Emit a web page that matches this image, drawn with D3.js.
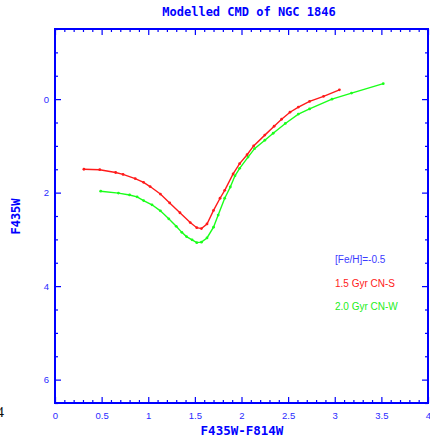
<!DOCTYPE html>
<html>
<head>
<meta charset="utf-8">
<script src="https://cdn.jsdelivr.net/npm/d3@7"></script>
<style>
  html, body { margin: 0; padding: 0; background: #fff; }
  svg { display: block; }
</style>
</head>
<body>
<svg id="chart" width="430" height="437"></svg>
<script>
// Isochrone tracks: colour F435W-F814W vs magnitude F435W
const redColor = [0.31, 0.48, 0.65, 0.73, 0.86, 0.95, 1.02, 1.13, 1.23, 1.34, 1.45, 1.52, 1.57, 1.63, 1.70, 1.77, 1.82, 1.91, 1.98, 2.06, 2.13, 2.25, 2.35, 2.43, 2.52, 2.61, 2.73, 2.88, 3.05];
const redMag   = [1.50, 1.51, 1.57, 1.61, 1.70, 1.78, 1.87, 2.03, 2.22, 2.43, 2.64, 2.75, 2.77, 2.67, 2.38, 2.12, 1.95, 1.60, 1.38, 1.19, 1.00, 0.77, 0.58, 0.43, 0.28, 0.17, 0.05, -0.06, -0.20];

const greenColor = [0.49, 0.68, 0.80, 0.88, 0.95, 1.04, 1.13, 1.22, 1.30, 1.36, 1.41, 1.47, 1.52, 1.57, 1.63, 1.70, 1.75, 1.82, 1.88, 1.93, 1.98, 2.07, 2.14, 2.25, 2.34, 2.47, 2.61, 2.73, 2.97, 3.18, 3.52];
const greenMag   = [1.97, 2.01, 2.05, 2.09, 2.17, 2.26, 2.39, 2.56, 2.72, 2.85, 2.94, 3.01, 3.07, 3.06, 2.97, 2.74, 2.48, 2.12, 1.88, 1.64, 1.48, 1.24, 1.06, 0.88, 0.73, 0.52, 0.32, 0.21, 0.00, -0.13, -0.33];

const xMajorTicks = [0, 0.5, 1, 1.5, 2, 2.5, 3, 3.5, 4];
const xTickLabels = ["0", "0.5", "1", "1.5", "2", "2.5", "3", "3.5", "4"];
const yMajorTicks = [0, 2, 4, 6];
const yTickLabels = ["0", "2", "4", "6"];

const legendLines = ["[Fe/H]=-0.5", "1.5 Gyr CN-S", "2.0 Gyr CN-W"];

const svg = d3.select("#chart");
const blue = "#0000ff";
const labelBlue = "#2a2aff";

const x = d3.scaleLinear().domain([0, 4]).range([55, 428]);
const y = d3.scaleLinear().domain([-1.5, 6.5]).range([29, 403]);

const xMinor = d3.range(0, 4.0001, 0.1).filter(v => Math.abs(v * 2 - Math.round(v * 2)) > 1e-6);
const yMinor = d3.range(-1.5, 6.5001, 0.5).filter(v => Math.abs(v / 2 - Math.round(v / 2)) > 1e-6);

function styleAxis(g) {
  g.select(".domain").remove();
  g.selectAll(".tick line").attr("stroke", blue).attr("stroke-width", 1.2);
}

// bottom axis with labels, ticks pointing inward
svg.append("g").attr("transform", `translate(0,${y.range()[1]})`)
  .call(d3.axisBottom(x).tickValues(xMajorTicks).tickSize(-6).tickPadding(9)
    .tickFormat((d, i) => xTickLabels[i]))
  .call(styleAxis)
  .call(g => g.selectAll("text").attr("fill", labelBlue)
    .style("font-family", "Arial, 'Liberation Sans', sans-serif").style("font-size", "9.5px"));
svg.append("g").attr("transform", `translate(0,${y.range()[1]})`)
  .call(d3.axisBottom(x).tickValues(xMinor).tickSize(-3).tickFormat(""))
  .call(styleAxis);

// top axis (mirror ticks)
svg.append("g").attr("transform", `translate(0,${y.range()[0]})`)
  .call(d3.axisTop(x).tickValues(xMajorTicks).tickSize(-6).tickFormat(""))
  .call(styleAxis);
svg.append("g").attr("transform", `translate(0,${y.range()[0]})`)
  .call(d3.axisTop(x).tickValues(xMinor).tickSize(-3).tickFormat(""))
  .call(styleAxis);

// left axis with labels
svg.append("g").attr("transform", `translate(${x.range()[0]},0)`)
  .call(d3.axisLeft(y).tickValues(yMajorTicks).tickSize(-6).tickPadding(6)
    .tickFormat((d, i) => yTickLabels[i]))
  .call(styleAxis)
  .call(g => g.selectAll("text").attr("fill", labelBlue)
    .style("font-family", "Arial, 'Liberation Sans', sans-serif").style("font-size", "9.5px"));
svg.append("g").attr("transform", `translate(${x.range()[0]},0)`)
  .call(d3.axisLeft(y).tickValues(yMinor).tickSize(-3).tickFormat(""))
  .call(styleAxis);

// right axis (mirror ticks)
svg.append("g").attr("transform", `translate(${x.range()[1]},0)`)
  .call(d3.axisRight(y).tickValues(yMajorTicks).tickSize(-6).tickFormat(""))
  .call(styleAxis);
svg.append("g").attr("transform", `translate(${x.range()[1]},0)`)
  .call(d3.axisRight(y).tickValues(yMinor).tickSize(-3).tickFormat(""))
  .call(styleAxis);

// frame
svg.append("rect")
  .attr("x", x.range()[0]).attr("y", y.range()[0])
  .attr("width", x.range()[1] - x.range()[0]).attr("height", y.range()[1] - y.range()[0])
  .attr("fill", "none").attr("stroke", blue).attr("stroke-width", 2);

// tracks
const line = d3.line().x(d => x(d[0])).y(d => y(d[1]));
function drawTrack(cols, mags, color) {
  const pts = cols.map((c, i) => [c, mags[i]]);
  svg.append("path").datum(pts)
    .attr("d", line).attr("fill", "none")
    .attr("stroke", color).attr("stroke-width", 1.4);
  svg.append("g").selectAll("circle").data(pts).join("circle")
    .attr("cx", d => x(d[0])).attr("cy", d => y(d[1]))
    .attr("r", 1.4).attr("fill", color);
}
drawTrack(redColor, redMag, "#ff1a1a");
drawTrack(greenColor, greenMag, "#1aff1a");

// legend
const legendColors = ["#3b3bff", "#ff2020", "#22ee22"];
const legendY = [263, 286.5, 310];
svg.append("g").selectAll("text").data(legendLines).join("text")
  .attr("x", 335).attr("y", (d, i) => legendY[i])
  .attr("fill", (d, i) => legendColors[i])
  .style("font-family", "Arial, 'Liberation Sans', sans-serif")
  .style("font-size", "10px")
  .text(d => d);

// titles
svg.append("text")
  .attr("x", 249).attr("y", 16).attr("text-anchor", "middle")
  .attr("fill", blue)
  .style("font-family", "'DejaVu Sans Mono', 'Liberation Mono', monospace")
  .style("font-weight", "bold").style("font-size", "12px")
  .text("Modelled CMD of NGC 1846");

svg.append("text")
  .attr("x", 242).attr("y", 434.5).attr("text-anchor", "middle")
  .attr("fill", blue)
  .style("font-family", "'DejaVu Sans Mono', 'Liberation Mono', monospace")
  .style("font-weight", "bold").style("font-size", "12.5px")
  .text("F435W-F814W");

svg.append("text")
  .attr("transform", "translate(19.5,216.5) rotate(-90)")
  .attr("text-anchor", "middle")
  .attr("fill", blue)
  .style("font-family", "'DejaVu Sans Mono', 'Liberation Mono', monospace")
  .style("font-weight", "bold").style("font-size", "12px")
  .text("F435W");

// page number fragment at the lower left edge
svg.append("text")
  .attr("x", -3.5).attr("y", 417)
  .attr("fill", "#111")
  .style("font-family", "'Liberation Serif', 'DejaVu Serif', serif")
  .style("font-size", "15px")
  .text("4");
</script>
</body>
</html>
